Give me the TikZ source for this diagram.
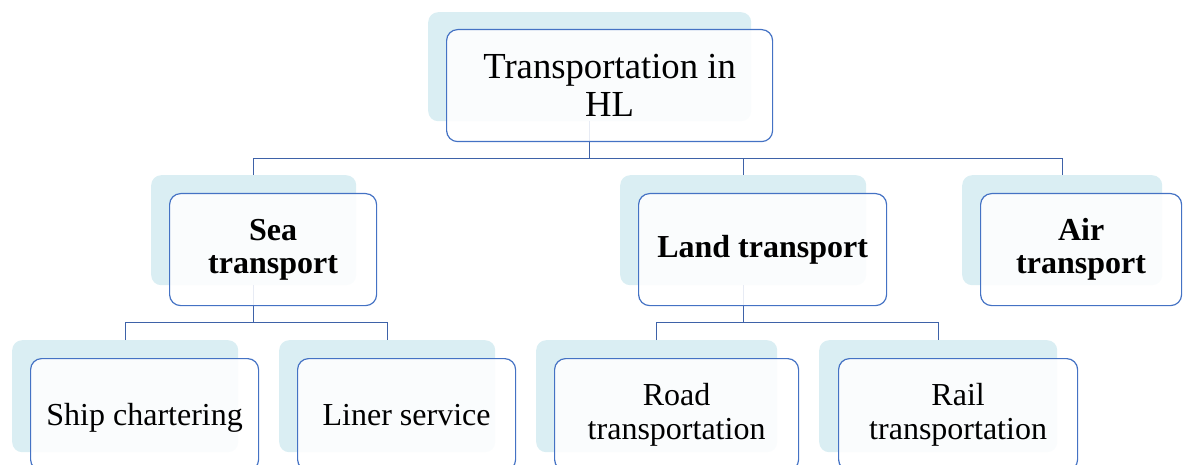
\documentclass[tikz,border=0pt]{standalone}
\usepackage{fontspec}
\setmainfont{Liberation Serif}
\definecolor{shade}{HTML}{DAEEF3}
\definecolor{edge}{HTML}{4472C4}
\definecolor{linkc}{HTML}{3E62A8}
\begin{document}
\begin{tikzpicture}[x=1pt,y=-1pt,
  shadowbox/.style={fill=shade, rounded corners=10pt, inner sep=0pt, anchor=north west},
  frontbox/.style={draw=edge, line width=1.2pt, fill=white, fill opacity=0.88, text opacity=1,
     rounded corners=11pt, inner sep=0pt, anchor=north west, align=center},
  lvlA/.style={font=\fontsize{36.7}{38}\selectfont},
  lvlB/.style={font=\fontsize{32}{33}\selectfont\bfseries},
  lvlC/.style={font=\fontsize{32}{34.5}\selectfont},
  linkline/.style={draw=linkc, line width=1.4pt}]
\useasboundingbox (0,0) rectangle (1183,465);
\clip (0,0) rectangle (1183,465);
% shadows
\node[shadowbox, minimum width=323pt, minimum height=109pt] (topS) at (428,12) {};
\node[shadowbox, minimum width=205pt, minimum height=110pt] (seaS) at (151,175) {};
\node[shadowbox, minimum width=246pt, minimum height=110pt] (landS) at (620,175) {};
\node[shadowbox, minimum width=200pt, minimum height=110pt] (airS) at (962,175) {};
\node[shadowbox, minimum width=226pt, minimum height=112pt] (shipS) at (12,340) {};
\node[shadowbox, minimum width=216pt, minimum height=112pt] (linerS) at (279,340) {};
\node[shadowbox, minimum width=241pt, minimum height=112pt] (roadS) at (536,340) {};
\node[shadowbox, minimum width=238pt, minimum height=112pt] (railS) at (819,340) {};
% connectors
\draw[linkline] (topS.south) -- ++(0,37) coordinate (j1);
\draw[linkline] (seaS.north) |- (j1) -| (airS.north);
\draw[linkline] (j1 -| landS.north) -- (landS.north);
\draw[linkline] (seaS.south) -- ++(0,37) coordinate (j2);
\draw[linkline] (shipS.north) |- (j2) -| (linerS.north);
\draw[linkline] (landS.south) -- ++(0,37) coordinate (j3);
\draw[linkline] (roadS.north) |- (j3) -| (railS.north);
% front boxes
\node[frontbox, lvlA, minimum width=326pt, minimum height=112pt] (top) at (446,29) {Transportation in\\HL};
\node[frontbox, lvlB, minimum width=207pt, minimum height=112pt] (sea) at (169,193) {Sea\\transport};
\node[frontbox, lvlB, minimum width=248pt, minimum height=112pt] (land) at (638,193) {Land transport};
\node[frontbox, lvlB, minimum width=201pt, minimum height=112pt] (air) at (980,193) {Air\\transport};
\node[frontbox, lvlC, minimum width=228pt, minimum height=112pt, text depth=0pt] (ship) at (30,358) {Ship chartering};
\node[frontbox, lvlC, minimum width=218pt, minimum height=112pt, text depth=0pt] (liner) at (297,358) {Liner service};
\node[frontbox, lvlC, minimum width=244pt, minimum height=112pt] (road) at (554,358) {Road\\transportation};
\node[frontbox, lvlC, minimum width=239pt, minimum height=112pt] (rail) at (838,358) {Rail\\transportation};
\end{tikzpicture}
\end{document}
